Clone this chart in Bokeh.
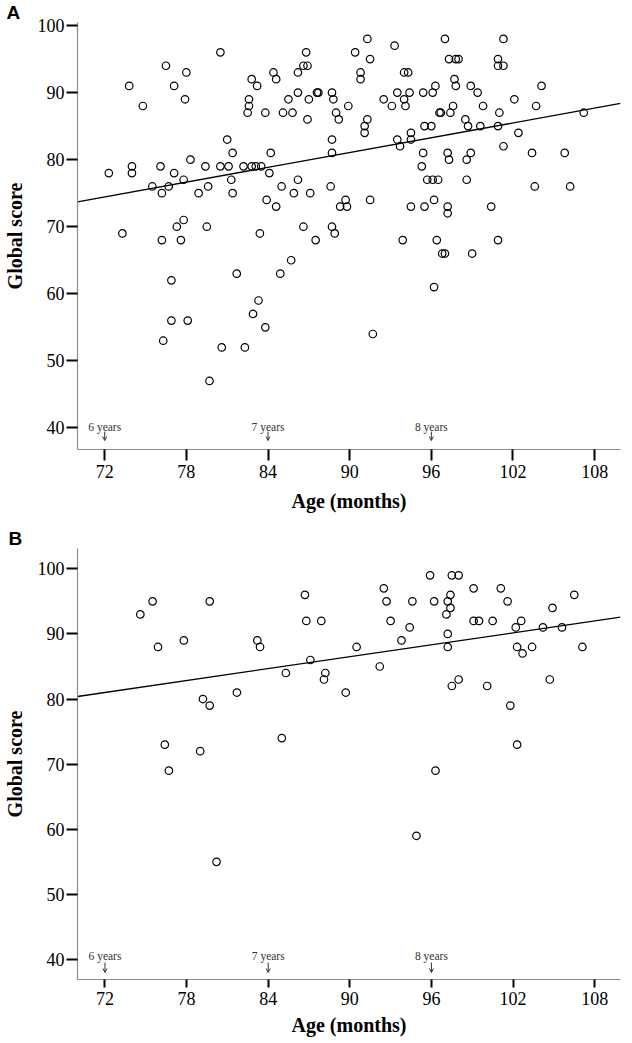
from bokeh.plotting import figure
from bokeh.layouts import column
from bokeh.models import Range1d, FixedTicker, Arrow, OpenHead
from bokeh.core.properties import value
from bokeh.embed import file_html
from bokeh.resources import INLINE

# ---------------- data ----------------
x_ticks = [72, 78, 84, 90, 96, 102, 108]
y_ticks = [40, 50, 60, 70, 80, 90, 100]
year_months = [72, 84, 96]
year_labels = ["6 years", "7 years", "8 years"]
x_title = "Age (months)"
y_title = "Global score"

# Panel A: age (months), global score
age_a = [80.5, 76.5, 86.8, 86.6, 86.9, 78.0, 84.4, 86.2, 73.8, 77.1,
         82.8, 83.2, 84.6, 77.9, 74.8, 82.6, 82.6, 82.5, 83.8, 85.1,
         85.8, 85.5, 86.2, 87.0, 86.9, 87.6, 87.7, 81.0, 81.4, 84.2,
         78.3, 74.0, 74.0, 72.3, 76.1, 77.1, 77.8, 79.4, 80.5, 81.1,
         82.2, 82.8, 83.1, 83.5, 84.1, 75.5, 76.7, 76.2, 78.9, 79.6,
         81.3, 81.4, 85.0, 86.2, 85.9, 87.1, 83.9, 84.6, 73.3, 76.2,
         77.3, 77.8, 77.6, 79.5, 83.4, 86.6, 87.5, 85.7,
         88.7, 88.8, 89.0, 89.2, 89.9, 90.4, 91.3, 91.5, 90.8, 90.8,
         91.3, 91.1, 91.1, 93.3, 94.0, 94.3, 92.5, 93.1, 93.5, 94.0,
         94.1, 94.4, 95.4, 96.1, 96.3, 95.5, 96.0, 94.5, 93.5, 93.7,
         94.5, 97.0, 97.3, 97.8, 98.0, 97.7, 97.8, 98.9, 99.4, 97.6,
         96.6, 96.7, 97.4, 98.5, 98.7, 99.6, 99.8, 100.9, 101.0, 100.9,
         101.3, 100.9, 101.3, 102.1, 104.1, 103.7, 102.4, 101.3, 103.4, 105.8,
         107.2, 95.4, 97.2, 97.3, 98.9, 98.6, 95.3, 98.6, 95.7, 96.1,
         96.5, 103.6, 106.2, 88.6, 89.3, 89.8, 89.7, 91.5, 94.5, 95.5,
         96.2, 97.2, 97.2, 100.4, 88.7, 88.9, 93.9, 96.4, 100.9, 96.8,
         97.0, 99.0, 88.7, 88.7,
         76.9, 81.7, 84.9, 83.3, 82.9, 76.9, 78.1, 83.8, 76.3, 80.6,
         82.3, 79.7, 96.2, 91.7]
score_a = [96, 94, 96, 94, 94, 93, 93, 93, 91, 91,
           92, 91, 92, 89, 88, 89, 88, 87, 87, 87,
           87, 89, 90, 89, 86, 90, 90, 83, 81, 81,
           80, 79, 78, 78, 79, 78, 77, 79, 79, 79,
           79, 79, 79, 79, 78, 76, 76, 75, 75, 76,
           77, 75, 76, 77, 75, 75, 74, 73, 69, 68,
           70, 71, 68, 70, 69, 70, 68, 65,
           90, 89, 87, 86, 88, 96, 98, 95, 93, 92,
           86, 85, 84, 97, 93, 93, 89, 88, 90, 89,
           88, 90, 90, 90, 91, 85, 85, 84, 83, 82,
           83, 98, 95, 95, 95, 92, 91, 91, 90, 88,
           87, 87, 87, 86, 85, 85, 88, 85, 87, 94,
           94, 95, 98, 89, 91, 88, 84, 82, 81, 81,
           87, 81, 81, 80, 81, 80, 79, 77, 77, 77,
           77, 76, 76, 76, 73, 73, 74, 74, 73, 73,
           74, 73, 72, 73, 70, 69, 68, 68, 68, 66,
           66, 66, 83, 81,
           62, 63, 63, 59, 57, 56, 56, 55, 53, 52,
           52, 47, 61, 54]
fit_a_at70 = 73.7     # fitted score at 70 months
fit_a_slope = 0.368   # points per month

# Panel B
age_b = [74.6, 75.5, 75.9, 77.8, 79.7, 76.4, 76.7, 79.0, 79.2, 79.7,
         81.7, 83.2, 83.4, 85.0, 85.3, 86.7, 86.8, 87.1, 87.9, 90.5,
         88.2, 88.1, 89.7, 92.2, 92.5, 92.7, 93.0, 93.8, 94.4, 94.6,
         95.9, 96.2, 96.3, 97.1, 97.2, 97.4, 97.4, 97.2, 97.2, 97.5,
         98.0, 97.5, 98.0, 99.1, 99.1, 99.5, 100.1, 100.5, 101.1, 101.6,
         101.8, 102.3, 102.2, 102.6, 102.3, 102.7, 103.4, 104.2, 104.9, 104.7,
         105.6, 106.5, 107.1, 80.2, 94.9]
score_b = [93, 95, 88, 89, 95, 73, 69, 72, 80, 79,
           81, 89, 88, 74, 84, 96, 92, 86, 92, 88,
           84, 83, 81, 85, 97, 95, 92, 89, 91, 95,
           99, 95, 69, 93, 95, 96, 94, 90, 88, 99,
           99, 82, 83, 97, 92, 92, 82, 92, 97, 95,
           79, 73, 91, 92, 88, 87, 88, 91, 94, 83,
           91, 96, 88, 55, 59]
fit_b_at70 = 80.4
fit_b_slope = 0.305

SERIF = "Liberation Serif"
WIDTH = 624


def panel(letter, ages, scores, fit0, slope, height, left, right, top, bottom,
          x_start, x_end, y_start, y_end, tick_x, std_x, title_std_x,
          letter_standoff, letter_valign, yr_dy, arr_top, arr_bot):
    p = figure(width=WIDTH, height=height, output_backend="svg", toolbar_location=None,
               x_range=Range1d(x_start, x_end), y_range=Range1d(y_start, y_end),
               min_border_left=left, min_border_right=right,
               min_border_top=top, min_border_bottom=bottom,
               x_axis_label=x_title, y_axis_label=y_title, title=letter)
    p.title.text_font = "Liberation Sans"
    p.title.text_font_style = "bold"
    p.title.text_font_size = "19px"
    p.title.text_color = "black"
    p.title.align = "left"
    p.title.offset = -left - 2
    p.title.standoff = letter_standoff
    p.title.vertical_align = letter_valign

    p.outline_line_color = None
    p.grid.visible = False
    p.background_fill_color = "white"
    p.border_fill_color = "white"
    p.xaxis.ticker = FixedTicker(ticks=x_ticks)
    p.yaxis.ticker = FixedTicker(ticks=y_ticks)
    for ax in p.axis:
        ax.axis_line_color = "#8a8a8a"
        ax.axis_line_width = 1.2
        ax.major_tick_line_color = "black"
        ax.major_tick_line_width = 2
        ax.major_tick_in = 0
        ax.minor_tick_in = 0
        ax.minor_tick_out = 0
        ax.major_label_text_font = SERIF
        ax.major_label_text_font_size = "18px"
        ax.major_label_text_color = "black"
        ax.axis_label_text_font = SERIF
        ax.axis_label_text_font_style = "bold"
        ax.axis_label_text_font_size = "20px"
        ax.axis_label_text_color = "black"
    p.xaxis.major_tick_out = tick_x
    p.xaxis.major_label_standoff = std_x
    p.xaxis.axis_label_standoff = title_std_x
    p.yaxis.major_tick_out = 11
    p.yaxis.major_label_standoff = 2
    p.yaxis.axis_label_standoff = 9

    frame_h = height - top - bottom
    ppu = frame_h / (y_end - y_start)      # px per score unit

    xs = [x_start, x_end]
    ys = [fit0 + slope * (x - 70) for x in xs]
    p.line(xs, ys, line_color="black", line_width=1.3)
    p.scatter(ages, scores, marker="circle", size=7.5, fill_color=None,
              line_color="black", line_width=1.2)

    p.text(x=year_months, y=[y_start] * len(year_months), text=year_labels,
           text_font=value(SERIF), text_font_size="11.5px", text_color="#333333",
           text_align="center", text_baseline="alphabetic", y_offset=yr_dy)
    for m in year_months:
        p.add_layout(Arrow(end=OpenHead(size=4, line_width=1, line_color="#333333"),
                           x_start=m, x_end=m,
                           y_start=y_start + arr_top / ppu, y_end=y_start + arr_bot / ppu,
                           line_width=1, line_color="#333333"))
    return p


pa = panel("A", age_a, score_a, fit_a_at70, fit_a_slope, height=514,
           left=69, right=2, top=22, bottom=63,
           x_start=70.0, x_end=109.9, y_start=36.78, y_end=100.45,
           tick_x=11, std_x=4, title_std_x=9,
           letter_standoff=-5, letter_valign="top",
           yr_dy=-23, arr_top=18, arr_bot=9)
pb = panel("B", age_b, score_b, fit_b_at70, fit_b_slope, height=527,
           left=67, right=4, top=34, bottom=62,
           x_start=69.98, x_end=109.9, y_start=36.93, y_end=103.12,
           tick_x=8, std_x=4, title_std_x=6,
           letter_standoff=-2, letter_valign="middle",
           yr_dy=-24, arr_top=17, arr_bot=7)

layout = column(pa, pb)
open("out.html", "w").write(file_html(layout, INLINE))
